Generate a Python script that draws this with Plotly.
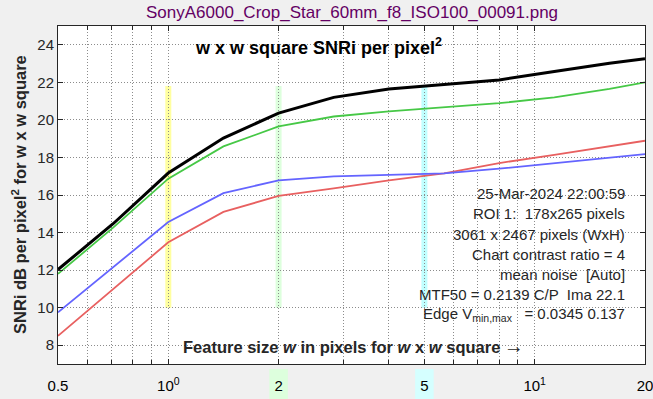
import plotly.graph_objects as go

# ---- data ----
feature_w = [0.5, 0.707, 1.0, 1.414, 2.0, 2.828, 4.0, 5.657, 8.0, 11.31, 16.0, 20.0]
snr_black = [12.03, 14.47, 17.17, 19.03, 20.36, 21.2, 21.64, 21.87, 22.13, 22.58, 23.02, 23.25]
snr_green = [11.8, 14.26, 16.87, 18.59, 19.65, 20.18, 20.45, 20.66, 20.89, 21.2, 21.65, 22.0]
snr_blue = [9.75, 12.15, 14.56, 16.1, 16.78, 16.99, 17.08, 17.15, 17.4, 17.7, 17.97, 18.18]
snr_red = [8.5, 11.0, 13.48, 15.1, 15.95, 16.35, 16.78, 17.15, 17.7, 18.14, 18.58, 18.89]

band_x = [1.0, 2.0, 5.0]
band_colors = ["#FFFFA0", "#DDFFDD", "#C0FFFF"]
band_y = [10.0, 21.8]

x_tickvals = [0.5, 1, 2, 5, 10, 20]
x_ticktext = ["0.5", "10<sup>0</sup>", "2", "5", "10<sup>1</sup>", "20"]
x_minor = [0.6, 0.7, 0.8, 0.9, 3, 4, 6, 7, 8, 9]
y_tickvals = [8, 10, 12, 14, 16, 18, 20, 22, 24]

title = "SonyA6000_Crop_Star_60mm_f8_ISO100_00091.png"
inner_title = "<b>w x w square SNRi per pixel<sup>2</sup></b>"
xlabel = "<b>Feature size <i>w</i> in pixels for <i>w</i> x <i>w</i> square</b>\u2009<span style='font-size:20px'>\u2192</span>"
ylabel = "<b>SNRi dB per pixel<sup>2</sup> for w x w square</b>"
info_lines = [
    "25-Mar-2024 22:00:59",
    "ROI 1:  178x265 pixels",
    "3061 x 2467 pixels (WxH)",
    "Chart contrast ratio = 4",
    "mean noise  [Auto]",
    "MTF50 = 0.2139 C/P  Ima 22.1",
    "Edge V<sub>min,max</sub>   = 0.0345 0.137",
]

W, H = 653, 399
ML, MR, MT, MB = 58, 8, 26, 35
PW, PH = W - ML - MR, H - MT - MB


def px(xp):
    return (xp - ML) / PW


def py(yp):
    return (H - MB - yp) / PH


FONT = "Liberation Sans, Arial, sans-serif"
TXT = "#262626"
GRID = "#8C8C8C"
GDASH = "1px,2px"

fig = go.Figure()
for ys, col, lw in [(snr_red, "#E86060", 1.8), (snr_blue, "#6464FF", 1.8),
                    (snr_green, "#46C846", 1.8), (snr_black, "#000000", 3)]:
    fig.add_trace(go.Scatter(x=feature_w, y=ys, mode="lines",
                             line=dict(color=col, width=lw), showlegend=False))

shapes = []
hw = 1.019
for xc, c in zip(band_x, band_colors):
    shapes.append(dict(type="rect", xref="x", yref="y", x0=xc / hw, x1=xc * hw,
                       y0=band_y[0], y1=band_y[1], fillcolor=c,
                       line=dict(width=0), layer="below"))
# tick-label highlight boxes for 2 and 5
for xc, c in zip(band_x[1:], ["#DDFFDD", "#D5FFFF"]):
    shapes.append(dict(type="rect", xref="x", yref="paper", x0=xc / 1.06, x1=xc * 1.06,
                       y0=py(399), y1=py(369), fillcolor=c,
                       line=dict(width=0), layer="below"))

annotations = [
    dict(text=title, xref="paper", yref="paper", x=0.5, y=py(12), showarrow=False,
         xanchor="center", yanchor="middle", font=dict(size=17, color="#640064", family=FONT)),
    dict(text=inner_title, xref="paper", yref="paper", x=px(193), y=py(47), showarrow=False,
         xanchor="left", yanchor="middle", font=dict(size=18, color="#000000", family=FONT)),
    dict(text=xlabel, xref="paper", yref="paper", x=px(181), y=py(346), showarrow=False,
         xanchor="left", yanchor="middle", font=dict(size=16.5, color=TXT, family=FONT)),
    dict(text=ylabel, xref="paper", yref="paper", x=px(19), y=py(195), showarrow=False,
         xanchor="center", yanchor="middle", textangle=-90,
         font=dict(size=16.5, color=TXT, family=FONT)),
]
info_y = [193.5, 213.5, 234, 254.3, 274.3, 294.3, 314]
for t, yy in zip(info_lines, info_y):
    annotations.append(dict(text=t, xref="paper", yref="paper", x=px(627), y=py(yy),
                            showarrow=False, xanchor="right", yanchor="middle",
                            font=dict(size=15, color=TXT, family=FONT)))

fig.update_layout(
    width=W, height=H,
    margin=dict(l=ML, r=MR, t=MT, b=MB, autoexpand=False),
    paper_bgcolor="#F0F0F0", plot_bgcolor="#FFFFFF",
    font=dict(family=FONT, color=TXT, size=15),
    shapes=shapes, annotations=annotations,
)
fig.update_xaxes(
    type="log", range=[-0.30103, 1.30103], automargin=False,
    tickmode="array", tickvals=x_tickvals, ticktext=x_ticktext,
    ticks="inside", ticklen=5, tickcolor=TXT, ticklabeloverflow="allow",
    showline=True, linecolor=TXT, linewidth=1, mirror="allticks",
    showgrid=True, gridcolor=GRID, griddash=GDASH, gridwidth=1,
    ticklabelstandoff=8, tickfont=dict(size=15, color="#000000"),
    minor=dict(tickmode="array", tickvals=x_minor, ticks="inside", ticklen=4,
               tickcolor=TXT, showgrid=True, gridcolor=GRID, griddash=GDASH, gridwidth=1),
    zeroline=False,
)
fig.update_yaxes(
    range=[7, 25], tickmode="array", tickvals=y_tickvals, automargin=False,
    ticks="inside", ticklen=5, tickcolor=TXT,
    showline=True, linecolor=TXT, linewidth=1, mirror="allticks",
    showgrid=True, gridcolor=GRID, griddash=GDASH, gridwidth=1,
    tickfont=dict(size=15, color=TXT), zeroline=False,
)

fig.write_html(
    "out.html",
    config={"displayModeBar": False},
    post_script="document.body.style.margin='0';document.body.style.background='#F0F0F0';",
)
